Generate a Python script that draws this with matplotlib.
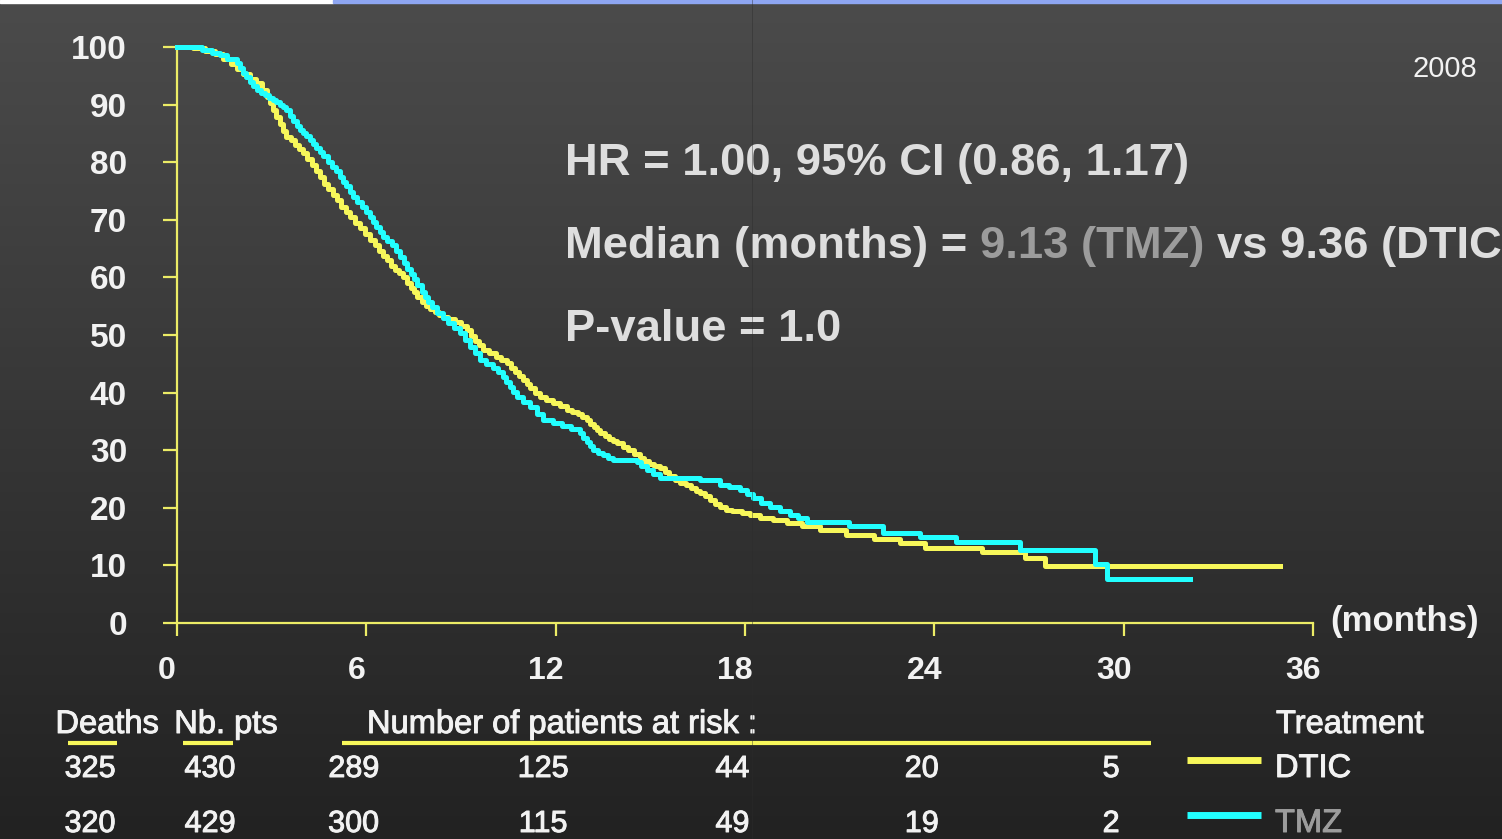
import matplotlib
matplotlib.use("Agg")
import matplotlib.pyplot as plt
import matplotlib.patheffects as pe
import numpy as np
from matplotlib.colors import LinearSegmentedColormap
from matplotlib.lines import Line2D
from matplotlib.patches import Rectangle
from matplotlib.text import Annotation
from matplotlib.transforms import ScaledTranslation, blended_transform_factory

plt.rcParams["font.family"] = ["Liberation Sans", "DejaVu Sans"]

W, H = 1502, 839

# Kaplan-Meier steps (months, % alive)
dtic_t = [0, 0.5, 0.9, 1.2, 1.45, 1.7, 1.9, 2.1, 2.3, 2.5, 2.7, 2.85, 2.95, 3.05, 3.15,
          3.25, 3.35, 3.47, 3.6, 3.75, 3.88, 4.0, 4.13, 4.27, 4.4, 4.53, 4.67, 4.8, 4.93,
          5.06, 5.2, 5.34, 5.48, 5.64, 5.8, 5.96, 6.12, 6.26, 6.4, 6.52, 6.64, 6.78, 6.9,
          7.04, 7.17, 7.3, 7.4, 7.5, 7.6, 7.75, 7.9, 8.03, 8.17, 8.3, 8.43, 8.6, 8.8, 9.0,
          9.19, 9.32, 9.45, 9.58, 9.7, 9.9, 10.1, 10.28, 10.46, 10.58, 10.7, 10.83, 10.96,
          11.08, 11.2, 11.35, 11.5, 11.7, 11.9, 12.13, 12.36, 12.53, 12.7, 12.85, 12.99,
          13.1, 13.2, 13.3, 13.4, 13.55, 13.7, 13.82, 13.94, 14.12, 14.3, 14.48, 14.67,
          14.81, 14.95, 15.12, 15.3, 15.45, 15.6, 15.77, 15.94, 16.12, 16.3, 16.44, 16.57,
          16.73, 16.9, 17.05, 17.2, 17.4, 17.6, 17.9, 18.16, 18.47, 18.9, 19.33, 19.8,
          20.37, 21.2, 22.1, 22.9, 23.7, 25.5, 26.87, 27.5]
dtic_s = [100, 99.8, 99.3, 98.7, 97.9, 97.0, 96.2, 95.3, 94.5, 93.7, 92.6, 91.3, 90.3, 89.0,
          87.8, 86.6, 85.5, 84.4, 83.8, 83.0, 82.3, 81.6, 80.6, 79.6, 78.5, 77.4, 76.3, 75.3,
          74.3, 73.4, 72.3, 71.3, 70.5, 69.5, 68.6, 67.5, 66.5, 65.6, 64.6, 63.8, 63.0, 62.0,
          61.3, 60.7, 60.1, 59.0, 58.2, 57.4, 56.6, 55.8, 55.1, 54.5, 54.0, 53.5, 53.1, 52.7,
          52.2, 51.5, 50.9, 49.9, 49.0, 48.2, 47.4, 46.8, 46.2, 45.6, 45.1, 44.3, 43.6, 42.9,
          42.2, 41.5, 40.8, 40.0, 39.2, 38.7, 38.2, 37.6, 37.0, 36.6, 36.2, 35.7, 35.2, 34.6,
          34.0, 33.5, 33.0, 32.5, 32.0, 31.6, 31.2, 30.6, 30.0, 29.3, 28.6, 28.1, 27.6, 27.2,
          26.9, 26.2, 25.6, 24.9, 24.3, 23.9, 23.5, 23.0, 22.6, 22.0, 21.3, 20.7, 20.1, 19.7,
          19.4, 19.1, 18.75, 18.2, 17.8, 17.4, 16.8, 16.1, 15.2, 14.5, 13.9, 13.1, 12.4,
          11.2, 9.9]
dtic_end = 34.95

tmz_t = [0, 0.8, 1.1, 1.36, 1.6, 1.89, 2.0, 2.1, 2.2, 2.3, 2.42, 2.52, 2.66, 2.8, 2.93,
         3.05, 3.15, 3.25, 3.36, 3.47, 3.57, 3.68, 3.79, 3.9, 4.0, 4.1, 4.21, 4.31, 4.42,
         4.53, 4.64, 4.77, 4.9, 5.03, 5.16, 5.26, 5.37, 5.48, 5.59, 5.72, 5.85, 5.98, 6.12,
         6.21, 6.3, 6.42, 6.53, 6.66, 6.8, 6.94, 7.07, 7.18, 7.3, 7.4, 7.5, 7.62, 7.75,
         7.85, 7.95, 8.09, 8.23, 8.42, 8.6, 8.79, 8.97, 9.13, 9.3, 9.45, 9.6, 9.8, 10.0,
         10.16, 10.33, 10.44, 10.55, 10.65, 10.76, 10.98, 11.2, 11.4, 11.6, 11.9, 12.2,
         12.5, 12.77, 12.88, 13.0, 13.09, 13.18, 13.34, 13.5, 13.66, 13.82, 14.57, 14.72,
         14.88, 15.09, 15.3, 16.57, 17.2, 17.5, 17.84, 18.05, 18.25, 18.5, 18.79, 19.1,
         19.42, 19.68, 19.95, 21.3, 22.37, 23.54, 24.7, 26.7, 29.1, 29.46]
tmz_s = [100, 99.5, 99.0, 98.6, 98.0, 97.2, 96.3, 95.5, 94.8, 94.0, 93.2, 92.5, 92.0, 91.6,
         91.2, 90.8, 90.4, 90.0, 89.6, 89.1, 88.1, 87.1, 86.2, 85.6, 85.0, 84.5, 83.9, 83.2,
         82.5, 81.8, 81.0, 80.1, 79.2, 78.4, 77.5, 76.6, 75.8, 74.9, 74.0, 73.1, 72.2, 71.4,
         70.5, 69.6, 68.8, 67.9, 67.1, 66.3, 65.6, 64.6, 63.6, 62.5, 61.5, 60.6, 59.8, 58.6,
         57.5, 56.6, 55.8, 54.8, 53.8, 52.9, 52.0, 51.2, 50.3, 49.1, 48.0, 46.8, 45.7, 45.0,
         44.3, 43.5, 42.7, 41.8, 41.0, 40.1, 39.3, 38.4, 37.5, 36.3, 35.2, 34.7, 34.2, 33.6,
         33.0, 32.2, 31.5, 30.7, 30.0, 29.6, 29.2, 28.7, 28.3, 28.0, 27.3, 26.6, 25.9, 25.2,
         24.8, 24.0, 23.6, 23.1, 22.4, 21.7, 20.8, 20.1, 19.4, 18.75, 18.2, 17.6, 16.8,
         15.6, 14.9, 14.0, 12.7, 10.2, 7.6]
tmz_end = 32.1

risk_months = [6, 12, 18, 24, 30]
risk_dtic = [289, 125, 44, 20, 5]
risk_tmz = [300, 115, 49, 19, 2]
deaths = [325, 320]
n_pts = [430, 429]
treatments = ["DTIC", "TMZ"]

YELLOW = "#f7f75a"
CYAN = "#22ffff"
AXIS = "#ecec66"
WHITE = "#f2f2f2"
LIGHT = "#dedede"
GREY = "#9c9c9c"


def fx(px):
    return px / W


def fy(py):
    return 1 - py / H


def heavy(color):
    # regular Liberation is a touch thinner than the slide font
    return [pe.withStroke(linewidth=0.7, foreground=color)]


fig = plt.figure(figsize=(W / 100, H / 100), dpi=100)

# dark slide background, lighter at the top
bg = fig.add_axes([0, 0, 1, 1], zorder=-10)
cmap = LinearSegmentedColormap.from_list("slide", ["#4b4b4b", "#222222"])
bg.imshow(np.linspace(0, 1, 256).reshape(-1, 1), aspect="auto", cmap=cmap,
          extent=[0, 1, 0, 1])
bg.set_xlim(0, 1)
bg.set_ylim(0, 1)
bg.axis("off")

fig.patches.append(Rectangle((0, fy(3)), fx(333), 3 / H, transform=fig.transFigure,
                             color="white", zorder=5))
fig.patches.append(Rectangle((fx(333), fy(3)), 1 - fx(333), 3 / H,
                             transform=fig.transFigure, color="#8ea6f2", zorder=5))

ax = fig.add_axes([fx(177), 216 / H, (1313 - 177) / W, (623 - 47) / H])
ax.set_facecolor("none")

ax.step(dtic_t + [dtic_end], dtic_s + [dtic_s[-1]], where="post", color=YELLOW,
        lw=3.6, clip_on=False, zorder=3)
ax.step(tmz_t + [tmz_end], tmz_s + [tmz_s[-1]], where="post", color=CYAN,
        lw=3.6, clip_on=False, zorder=4)

ax.set_xlim(0, 36)
ax.set_ylim(0, 100)
ax.set_xticks(range(0, 37, 6))
ax.set_yticks(range(0, 101, 10))
for side in ("top", "right"):
    ax.spines[side].set_visible(False)
for side in ("left", "bottom"):
    ax.spines[side].set_color(AXIS)
    ax.spines[side].set_linewidth(1.6)
ax.tick_params(axis="both", colors=AXIS, width=1.6, labelcolor=WHITE)
ax.tick_params(axis="y", length=10, pad=26, labelsize=24)
ax.tick_params(axis="x", length=9.5, pad=14, labelsize=23)
for lab in ax.get_xticklabels() + ax.get_yticklabels():
    lab.set_fontweight("bold")
for lab in ax.get_xticklabels():
    lab.set_transform(lab.get_transform() + ScaledTranslation(-0.1, 0, fig.dpi_scale_trans))

# statistics block
STAT = dict(fontsize=32.7, fontweight="bold")
fig.text(fx(565), fy(175), "HR = 1.00, 95% CI (0.86, 1.17)", color=LIGHT,
         va="baseline", **STAT)
m1 = fig.text(fx(565), fy(258), "Median (months) =", color=LIGHT, va="baseline", **STAT)
m2 = fig.add_artist(Annotation(
    "9.13 (TMZ)", xy=(1, 0), xycoords=m1, xytext=(9, 0), textcoords="offset points",
    va="bottom", color=GREY, **STAT))
fig.add_artist(Annotation(
    "vs 9.36 (DTIC)", xy=(1, 0), xycoords=m2, xytext=(9, 0), textcoords="offset points",
    va="bottom", color=LIGHT, **STAT))
fig.text(fx(565), fy(341), "P-value = 1.0", color=LIGHT, va="baseline", **STAT)

fig.text(fx(1477), fy(77), "2008", color=WHITE, fontsize=21, ha="right", va="baseline")
fig.text(fx(1330), fy(631), "(months)", color=WHITE, fontsize=25, fontweight="bold",
         va="baseline")

# number at risk table
TAB = dict(color=WHITE, fontsize=23.5, va="baseline", path_effects=heavy(WHITE))
fig.text(fx(107), fy(733), "Deaths", ha="center", **TAB)
fig.text(fx(226), fy(733), "Nb. pts", ha="center", **TAB)
fig.text(fx(367), fy(733), "Number of patients at risk :", **TAB)
fig.text(fx(1276), fy(733), "Treatment", **TAB)
for x0, x1 in [(68, 117), (183, 233), (342, 1151)]:
    fig.add_artist(Line2D([fx(x0), fx(x1)], [fy(742.5), fy(742.5)], color=YELLOW, lw=3,
                          transform=fig.transFigure, solid_capstyle="butt"))

mixed = blended_transform_factory(ax.transData, fig.transFigure)
NUM = dict(color=WHITE, fontsize=22, ha="center", va="baseline", path_effects=heavy(WHITE))
rows = [(risk_dtic, 777, YELLOW, WHITE), (risk_tmz, 832, CYAN, GREY)]
for i, (risk, base, lc, tc) in enumerate(rows):
    fig.text(fx(90), fy(base), str(deaths[i]), **NUM)
    fig.text(fx(210), fy(base), str(n_pts[i]), **NUM)
    for m, n in zip(risk_months, risk):
        ax.text(m - 0.4, fy(base), str(n), transform=mixed, clip_on=False, **NUM)
    fig.add_artist(Line2D([fx(1187), fx(1261)], [fy(base - 17), fy(base - 17)], color=lc,
                          lw=5, transform=fig.transFigure, solid_capstyle="butt"))
    fig.text(fx(1275), fy(base), treatments[i], color=tc, fontsize=23.5, va="baseline",
             path_effects=heavy(tc))

# faint scan seam through the slide
fig.add_artist(Line2D([fx(752.5), fx(752.5)], [0, 1], color="#2c2c2c", lw=0.6,
                      alpha=0.5, transform=fig.transFigure, zorder=20))

fig.savefig("out.png", dpi=100)
